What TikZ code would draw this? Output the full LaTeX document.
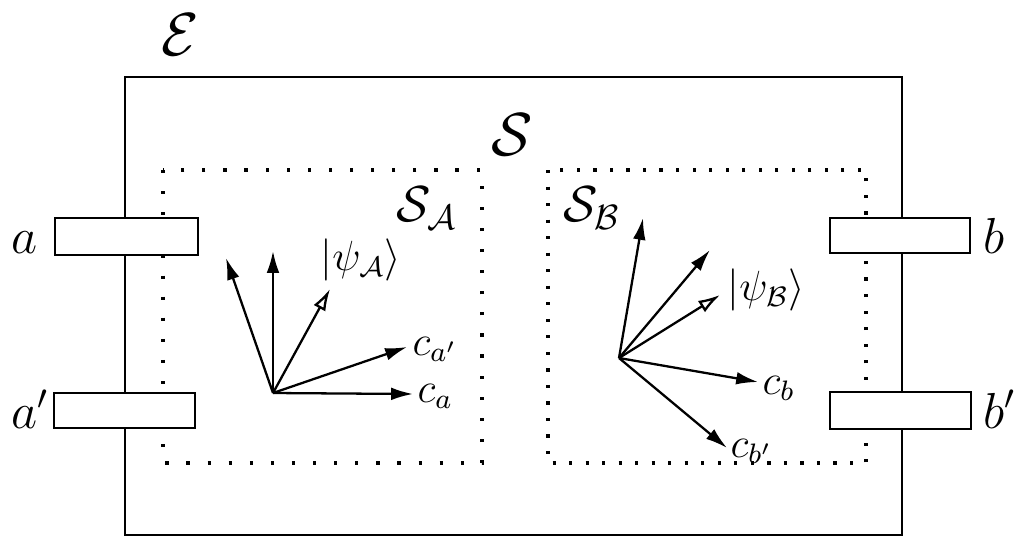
\documentclass[tikz,border=0pt]{standalone}
\usepackage{amssymb}
\usepackage{amsmath}
\usetikzlibrary{arrows.meta}

\begin{document}
\begin{tikzpicture}[x=0.01cm,y=-0.01cm,
    vec/.style={line width=0.65pt,-{Latex[length=6.2pt,width=3.6pt]}},
    state/.style={line width=0.65pt,-{Latex[open,length=6.2pt,width=3.8pt]}},
    port/.style={draw,line width=0.75pt,fill=white,inner sep=0pt},
    dotsA/.style={line width=0.9pt,dash pattern=on 0.9pt off 5.1pt},
    dotsB/.style={line width=0.9pt,dash pattern=on 0.9pt off 3.8pt},
    lbl/.style={font=\Large,inner sep=0pt,anchor=base west},
    vlbl/.style={font=\large,inner sep=0pt,anchor=base west}]
          \useasboundingbox (0,0) rectangle (1024,554);
          % environment and system
          \draw[line width=0.8pt] (125,77) rectangle (902,535);
          \node[font=\LARGE] (env) at (180,35) {$\mathcal{E}$};
          \node[font=\LARGE] (sys) at (512,135) {$\mathcal{S}$};
          \draw[dotsA] (163,170) rectangle (482,463);
          \draw[dotsB] (548,170) rectangle (866,463);
          \node[font=\Large] (sA) at (427,208) {$\mathcal{S}_\mathcal{A}$};
          \node[font=\Large] (sB) at (592,208) {$\mathcal{S}_\mathcal{B}$};
          % ports
          \node[port,minimum width=1.43cm,minimum height=0.37cm] (pa) at (126.5,236.5) {};
          \node[port,minimum width=1.41cm,minimum height=0.35cm] (pa2) at (124.5,410.5) {};
          \node[port,minimum width=1.40cm,minimum height=0.35cm] (pb) at (900,235.5) {};
          \node[port,minimum width=1.41cm,minimum height=0.37cm] (pb2) at (900.5,410.5) {};
          \node[lbl] (a) at (11,253) {$a$};
          \node[lbl] (a2) at (11,428) {$a'$};
          \node[lbl] (b) at (983,253) {$b$};
          \node[lbl] (b2) at (983,428) {$b'$};
          % basis of A
          \coordinate (oA) at (273,393);
          \coordinate (uA1) at (226,258);
          \coordinate (uA2) at (273,251);
          \coordinate (tpsiA) at (330,289);
          \coordinate (tca2) at (407,347);
          \coordinate (tca) at (413,394);
          \node[vlbl] (psiA) at (320,270) {$|\psi_\mathcal{A}\rangle$};
          \node[vlbl] (ca2) at (412,355) {$c_{a'}$};
          \node[vlbl] (ca) at (417,402) {$c_a$};
          \draw[vec] (oA) -- (uA1);
          \draw[vec] (oA) -- (uA2);
          \draw[state] (oA) -- (tpsiA);
          \draw[vec] (oA) -- (tca2);
          \draw[vec] (oA) -- (tca);
          % basis of B
          \coordinate (oB) at (619,358);
          \coordinate (uB1) at (643,218);
          \coordinate (uB2) at (710,250);
          \coordinate (tpsiB) at (720,295);
          \coordinate (tcb) at (758,382);
          \coordinate (tcb2) at (727,448);
          \node[vlbl] (psiB) at (727,300) {$|\psi_\mathcal{B}\rangle$};
          \node[vlbl] (cb) at (762,394) {$c_b$};
          \node[vlbl] (cb2) at (730,457) {$c_{b'}$};
          \draw[vec] (oB) -- (uB1);
          \draw[vec] (oB) -- (uB2);
          \draw[state] (oB) -- (tpsiB);
          \draw[vec] (oB) -- (tcb);
          \draw[vec] (oB) -- (tcb2);
        \end{tikzpicture}
\end{document}
